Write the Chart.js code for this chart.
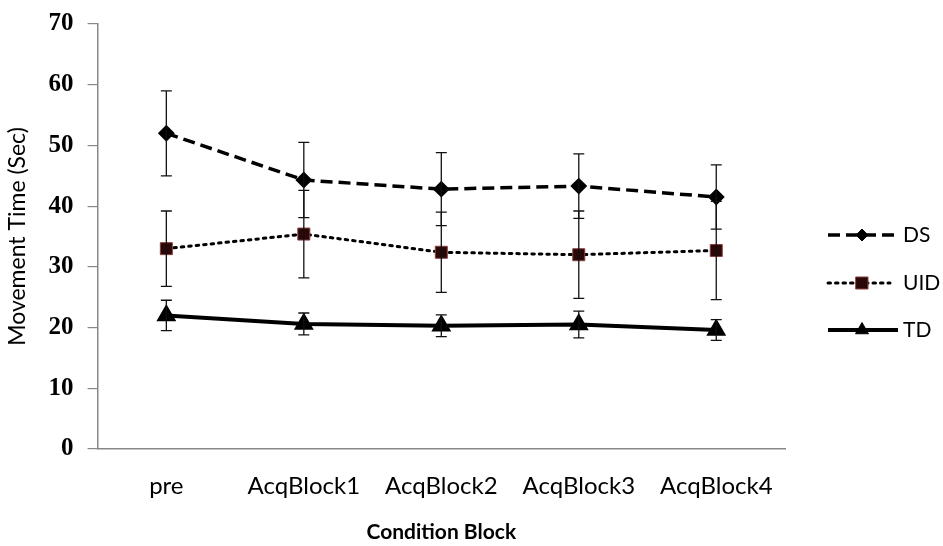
<!DOCTYPE html>
<html>
<head>
<meta charset="utf-8">
<script src="https://cdn.jsdelivr.net/npm/chart.js@4"></script>
<style>
    html, body { margin: 0; padding: 0; background: #fff; }
    #wrap { width: 943px; height: 546px; position: relative; }
</style>
</head>
<body>
<div id="wrap"><canvas id="chartMT"></canvas></div>
<script>
// Categories and series
const categories = ['pre', 'AcqBlock1', 'AcqBlock2', 'AcqBlock3', 'AcqBlock4'];
const seriesNames = ['DS', 'UID', 'TD'];

const dsMean = [52.0, 44.3, 42.8, 43.3, 41.5];
const dsErr = [7.0, 6.2, 6.0, 5.3, 5.3];
const uidMean = [33.0, 35.4, 32.4, 32.0, 32.7];
const uidErr = [6.2, 7.2, 6.6, 7.2, 8.1];
const tdMean = [22.0, 20.6, 20.3, 20.5, 19.6];
const tdErr = [2.5, 1.8, 1.8, 2.2, 1.7];

const yTicks = [0, 10, 20, 30, 40, 50, 60, 70];

const errors = [dsErr, uidErr, tdErr];

// Error bars drawn through the chart's own scales
const errorBars = {
    id: 'errorBars',
    afterDatasetsDraw(chart) {
        const ctx = chart.ctx;
        const x = chart.scales.x, y = chart.scales.y;
        ctx.save();
        ctx.strokeStyle = '#111';
        ctx.lineWidth = 1.3;
        chart.data.datasets.forEach((ds, di) => {
            ds.data.forEach((v, i) => {
                const px = x.getPixelForValue(i);
                const top = y.getPixelForValue(v + errors[di][i]);
                const bot = y.getPixelForValue(v - errors[di][i]);
                ctx.beginPath();
                ctx.moveTo(px, top); ctx.lineTo(px, bot);
                ctx.moveTo(px - 5.5, top); ctx.lineTo(px + 5.5, top);
                ctx.moveTo(px - 5.5, bot); ctx.lineTo(px + 5.5, bot);
                ctx.stroke();
            });
        });
        ctx.restore();
    }
};

// Excel-style legend: line sample with marker, label to the right
const sideLegend = {
    id: 'sideLegend',
    afterDraw(chart) {
        const ctx = chart.ctx;
        const rows = [235, 283, 330];
        const lineEnd = [898, 890, 898];
        ctx.save();
        chart.data.datasets.forEach((ds, i) => {
            const yy = rows[i];
            ctx.strokeStyle = '#000';
            ctx.lineWidth = ds.borderWidth;
            ctx.lineCap = ds.borderCapStyle || 'butt';
            ctx.setLineDash(ds.borderDash || []);
            ctx.beginPath();
            ctx.moveTo(828, yy); ctx.lineTo(lineEnd[i], yy);
            ctx.stroke();
            ctx.setLineDash([]);
            ctx.fillStyle = ds.pointBackgroundColor;
            ctx.strokeStyle = ds.pointBorderColor;
            ctx.lineWidth = 1;
            Chart.helpers.drawPoint(ctx, {
                pointStyle: ds.pointStyle, radius: ds.pointRadius, rotation: 0, borderWidth: 1
            }, 862, yy);
            ctx.fillStyle = '#000';
            ctx.font = '21px Lato';
            ctx.textBaseline = 'middle';
            ctx.fillText(ds.label, 903, yy);
        });
        ctx.restore();
    }
};

const ctx = document.getElementById('chartMT').getContext('2d');
new Chart(ctx, {
    type: 'line',
    data: {
        labels: categories,
        datasets: [
            {
                label: seriesNames[0],
                data: dsMean,
                borderColor: '#000',
                borderWidth: 3.5,
                borderDash: [12, 6],
                pointStyle: 'rectRot',
                pointRadius: 6,
                pointBackgroundColor: '#000',
                pointBorderColor: '#000',
                tension: 0
            },
            {
                label: seriesNames[1],
                data: uidMean,
                borderColor: '#000',
                borderWidth: 3,
                borderDash: [2.5, 5],
                borderCapStyle: 'round',
                pointStyle: 'rect',
                pointRadius: 8.5,
                pointBackgroundColor: '#2a0808',
                pointBorderColor: '#8a4040',
                pointBorderWidth: 1,
                tension: 0
            },
            {
                label: seriesNames[2],
                data: tdMean,
                borderColor: '#000',
                borderWidth: 4,
                pointStyle: 'triangle',
                pointRadius: 7.5,
                pointBackgroundColor: '#000',
                pointBorderColor: '#000',
                tension: 0
            }
        ]
    },
    options: {
        responsive: true,
        maintainAspectRatio: false,
        animation: false,
        layout: { padding: { left: 4, right: 158, top: 4, bottom: 1 } },
        plugins: {
            legend: { display: false },
            tooltip: { enabled: false }
        },
        scales: {
            x: {
                offset: true,
                grid: { display: false, drawTicks: false },
                border: { color: '#888', width: 1.5 },
                ticks: {
                    color: '#000',
                    font: { family: 'Lato', size: 24 },
                    padding: 23,
                    maxRotation: 0
                },
                title: {
                    display: true,
                    text: 'Condition Block',
                    color: '#000',
                    font: { family: 'Lato', size: 21, weight: 'bold' },
                    padding: { top: -4, bottom: 0 }
                }
            },
            y: {
                min: 0,
                max: 70,
                afterBuildTicks: axis => { axis.ticks = yTicks.map(v => ({ value: v })); },
                grid: { drawOnChartArea: false, drawTicks: true, tickLength: 10, color: '#888', lineWidth: 1.2 },
                border: { color: '#888', width: 1.5 },
                ticks: {
                    color: '#000',
                    font: { family: 'Liberation Serif', size: 25, weight: 'bold', lineHeight: 0.8 },
                    padding: 14
                },
                title: {
                    display: true,
                    text: 'Movement Time (Sec)',
                    color: '#000',
                    font: { family: 'Lato', size: 23 },
                    padding: { top: 0, bottom: 3 }
                }
            }
        }
    },
    plugins: [errorBars, sideLegend]
});
</script>
</body>
</html>
